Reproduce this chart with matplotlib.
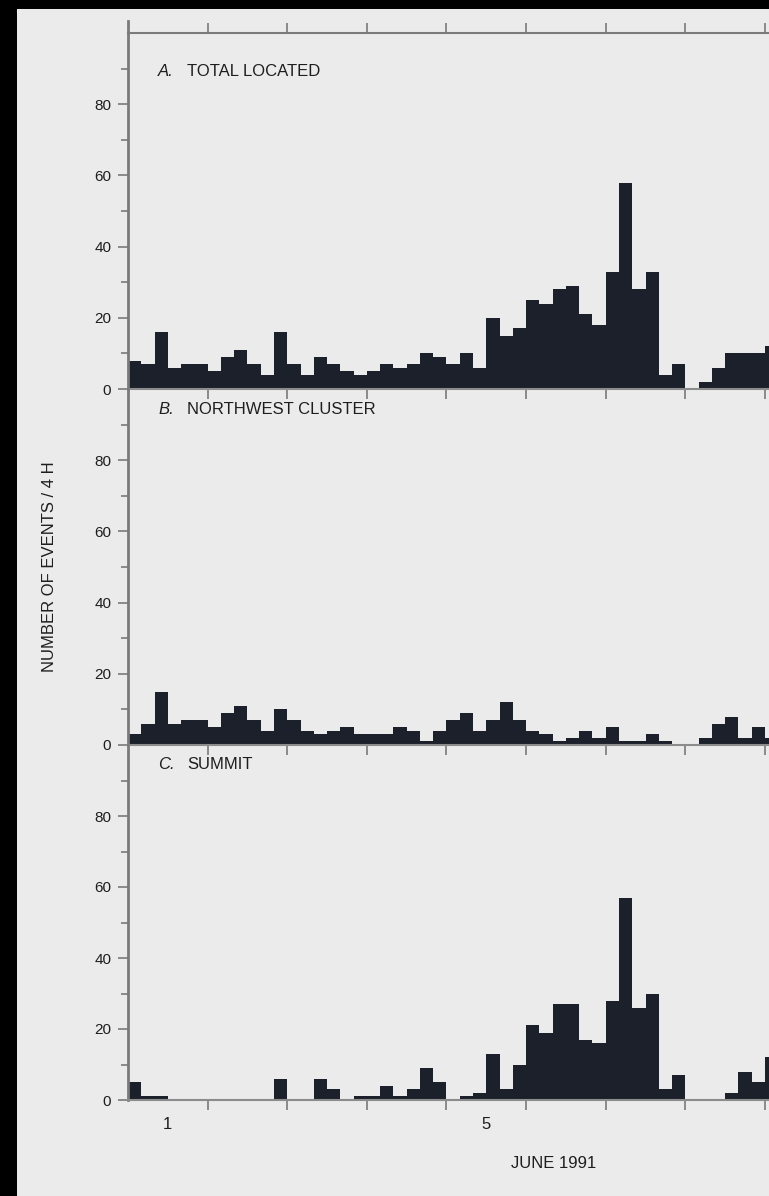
import numpy as np
import matplotlib.pyplot as plt
from matplotlib.patches import Rectangle

plt.rcParams['font.family'] = ['Liberation Sans Narrow', 'Liberation Sans', 'DejaVu Sans']
plt.rcParams['font.stretch'] = 'condensed'

# events per 4-hour bin, starting 1 June 1991 00:00
total = [8, 7, 16, 6, 7, 7, 5, 9, 11, 7, 4, 16, 7, 4, 9, 7, 5, 4, 5, 7, 6, 7, 10, 9,
         7, 10, 6, 20, 15, 17, 25, 24, 28, 29, 21, 18, 33, 58, 28, 33, 4, 7, 0, 2, 6, 10, 10, 10, 12]
northwest = [3, 6, 15, 6, 7, 7, 5, 9, 11, 7, 4, 10, 7, 4, 3, 4, 5, 3, 3, 3, 5, 4, 1, 4,
             7, 9, 4, 7, 12, 7, 4, 3, 1, 2, 4, 2, 5, 1, 1, 3, 1, 0, 0, 2, 6, 8, 2, 5, 2]
summit = [5, 1, 1, 0, 0, 0, 0, 0, 0, 0, 0, 6, 0, 0, 6, 3, 0, 1, 1, 4, 1, 3, 9, 5,
          0, 1, 2, 13, 3, 10, 21, 19, 27, 27, 17, 16, 28, 57, 26, 30, 3, 7, 0, 0, 0, 2, 8, 5, 12]
letters = ["A.", "B.", "C."]
names = ["TOTAL LOCATED", "NORTHWEST CLUSTER", "SUMMIT"]
day_labels = ["1", "5"]
day_index = [0, 4]

bins_per_day = 6
bg = "#ebebeb"
bar_color = "#1b202a"
gray = "#7a7a7a"
txt = "#1e1e1e"

W, H = 769, 1196
fig = plt.figure(figsize=(W / 100, H / 100), dpi=100)
fig.patch.set_facecolor("black")
fig.add_artist(Rectangle((17 / W, 0), 1, 1 - 9 / H, transform=fig.transFigure,
                         facecolor=bg, edgecolor="none", zorder=-5))

left = 128 / W
px_per_bin = 13.27
xmax = (W - 128) / px_per_bin
tops = [33, 389, 745]
bottoms = [389, 745, 1100]
label_y = [0.893, 0.942, 0.944]

for i, vals in enumerate([total, northwest, summit]):
    ax = fig.add_axes([left, 1 - bottoms[i] / H, 1 - left, (bottoms[i] - tops[i]) / H])
    ax.set_facecolor("none")
    x = np.arange(len(vals))
    ax.bar(x, vals, width=1, align="edge", color=bar_color, linewidth=0, zorder=2)
    ax.set_xlim(0, xmax)
    ax.set_ylim(0, 100)

    ax.set_yticks([0, 20, 40, 60, 80])
    ax.set_yticks(np.arange(10, 100, 20), minor=True)
    ax.tick_params(axis="y", which="major", direction="out", length=7, width=1.2,
                   color=gray, labelsize=11, labelcolor=txt, pad=5)
    ax.tick_params(axis="y", which="minor", direction="out", length=5, width=1.2, color=gray)

    ax.set_xticks(np.arange(bins_per_day, 49, bins_per_day))
    ax.set_xticklabels([])
    ax.tick_params(axis="x", which="major", direction="out", length=7, width=1.2, color=gray)

    for s in ["right", "top"]:
        ax.spines[s].set_visible(False)
    ax.spines["left"].set_color(gray)
    ax.spines["left"].set_linewidth(2)
    ax.spines["bottom"].set_color("#8c8c8c")
    ax.spines["bottom"].set_linewidth(1.5)

    if i == 0:
        ax.spines["top"].set_visible(True)
        ax.spines["top"].set_color(gray)
        ax.spines["top"].set_linewidth(1.5)
        ax.tick_params(axis="x", which="major", top=True)
        ax.spines["left"].set_bounds(0, 103.4)
    if i == 2:
        centers = [d * bins_per_day + bins_per_day / 2 for d in day_index]
        ax.set_xticks(centers, minor=True)
        ax.set_xticklabels(day_labels, minor=True)
        ax.tick_params(axis="x", which="minor", length=0, pad=12, labelsize=12, labelcolor=txt)

    ax.text(30 / 641, label_y[i], letters[i], style="italic", transform=ax.transAxes,
            fontsize=12, va="center", color=txt)
    ax.text(59 / 641, label_y[i], names[i], transform=ax.transAxes,
            fontsize=12, va="center", color=txt)

fig.text(50 / W, 1 - 567 / H, "NUMBER OF EVENTS / 4 H", rotation=90,
         ha="center", va="center", fontsize=12, color=txt)
fig.text(554 / W, 1 - 1163 / H, "JUNE 1991", ha="center", va="center",
         fontsize=12, color=txt)

fig.savefig("out.png", dpi=100)
